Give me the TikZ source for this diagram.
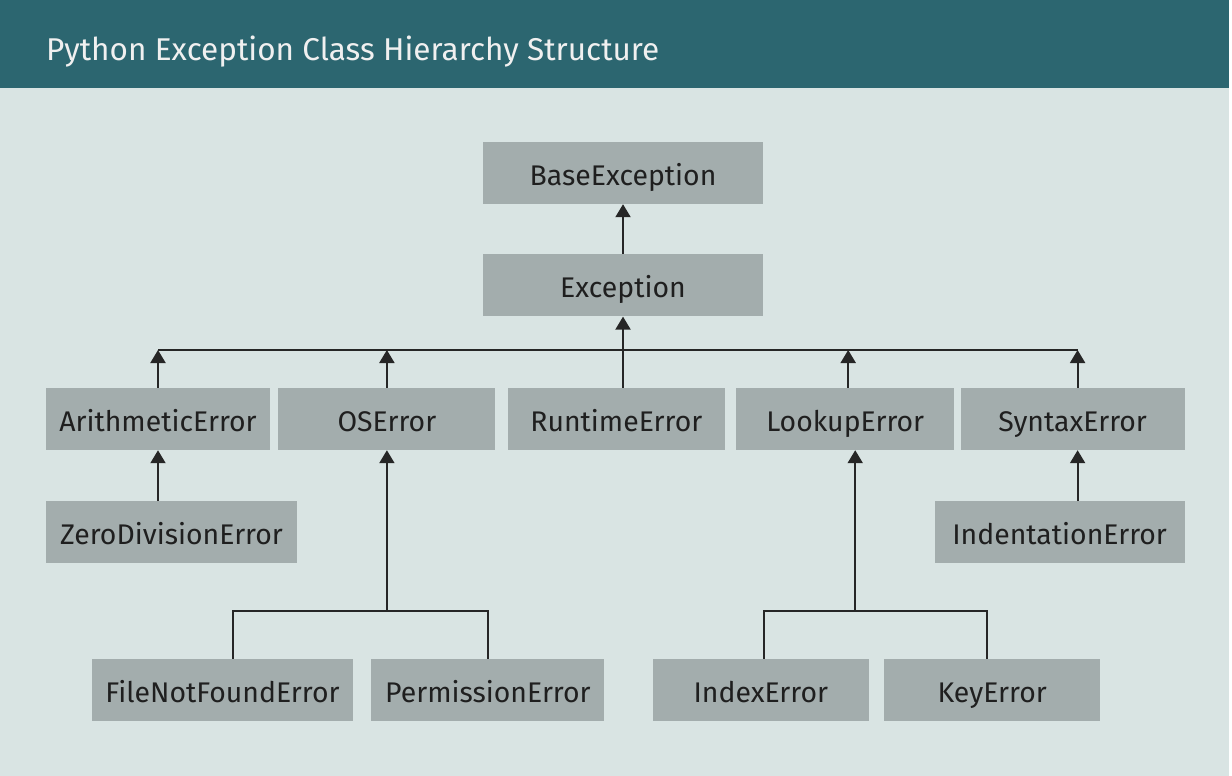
\documentclass[tikz,border=0pt]{standalone}
\usepackage{fontspec}
\setmainfont{Fira Sans}
\usetikzlibrary{positioning,arrows.meta}
\definecolor{headbg}{HTML}{2C6670}
\definecolor{pagebg}{HTML}{D9E4E3}
\definecolor{boxbg}{HTML}{A3ADAD}
\definecolor{linec}{HTML}{262626}
\tikzset{
  cls/.style={fill=boxbg, minimum height=62pt, inner sep=0pt, text=black!88,
    text height=24pt, text depth=0pt, font=\fontsize{28.4}{32}\selectfont},
  ln/.style={draw=linec, line width=2pt},
  up/.style={ln, -{Triangle[width=15pt,length=13pt]}},
}

\begin{document}
\begin{tikzpicture}[x=1pt,y=-1pt]
    \useasboundingbox (0,0) rectangle (1232,776);
    \fill[pagebg] (0,0) rectangle (1229,776);
    \fill[headbg] (0,0) rectangle (1229,88);
    \node[anchor=base west, inner sep=0pt, text=white!94!black, font=\fontsize{31.5}{36}\selectfont]
        (title) at (46,61) {Python Exception Class Hierarchy Structure};

    \node[cls, minimum width=280pt] (base) at (623,173) {BaseException};
    \node[cls, minimum width=280pt, below=50pt of base] (exc) {Exception};
    \node[cls, minimum width=224pt] (arith) at (158,419) {ArithmeticError};
    \node[cls, minimum width=217pt, right=8pt of arith] (os) {OSError};
    \node[cls, minimum width=217pt, right=12pt of os] (run) {RuntimeError};
    \node[cls, minimum width=218pt, right=11pt of run] (look) {LookupError};
    \node[cls, minimum width=224pt, right=6pt of look] (syn) {SyntaxError};
    \node[cls, minimum width=251pt, below right=51pt and 0pt of arith.south west] (zero) {ZeroDivisionError};
    \node[cls, minimum width=250pt, below left=51pt and 0pt of syn.south east] (indent) {IndentationError};
    \node[cls, minimum width=261pt] (fnf) at (222.5,690) {FileNotFoundError};
    \node[cls, minimum width=233pt, right=18pt of fnf] (perm) {PermissionError};
    \node[cls, minimum width=216pt, right=48pt of perm] (idx) {IndexError};
    \node[cls, minimum width=216pt, right=15pt of idx] (key) {KeyError};

    \coordinate (bus) at (0,350);
    \coordinate (fork) at (0,611);

    \draw[up] (exc.north) -- (base.south);
    \draw[up] (exc.south |- bus) -- (exc.south);
    \draw[ln] (arith.north |- bus) -- ([xshift=5pt]syn.north |- bus);
    \draw[ln] (exc.south |- bus) -- (exc.south |- run.north);
    \draw[up] (arith.north) -- (arith.north |- bus);
    \draw[up] (os.north) -- (os.north |- bus);
    \draw[up] ([xshift=3pt]look.north) -- ([xshift=3pt]look.north |- bus);
    \draw[up] ([xshift=5pt]syn.north) -- ([xshift=5pt]syn.north |- bus);

    \draw[up] (arith.south |- zero.north) -- (arith.south);
    \draw[up] ([xshift=5pt]syn.south |- indent.north) -- ([xshift=5pt]syn.south);

    \draw[up] (os.south |- fork) -- (os.south);
    \draw[ln] ([xshift=10pt]fnf.north) |- (perm.north |- fork) -- (perm.north);
    \draw[up] ([xshift=10pt]look.south |- fork) -- ([xshift=10pt]look.south);
    \draw[ln] ([xshift=3pt]idx.north) |- ([xshift=-5pt]key.north |- fork) -- ([xshift=-5pt]key.north);
\end{tikzpicture}
\end{document}
